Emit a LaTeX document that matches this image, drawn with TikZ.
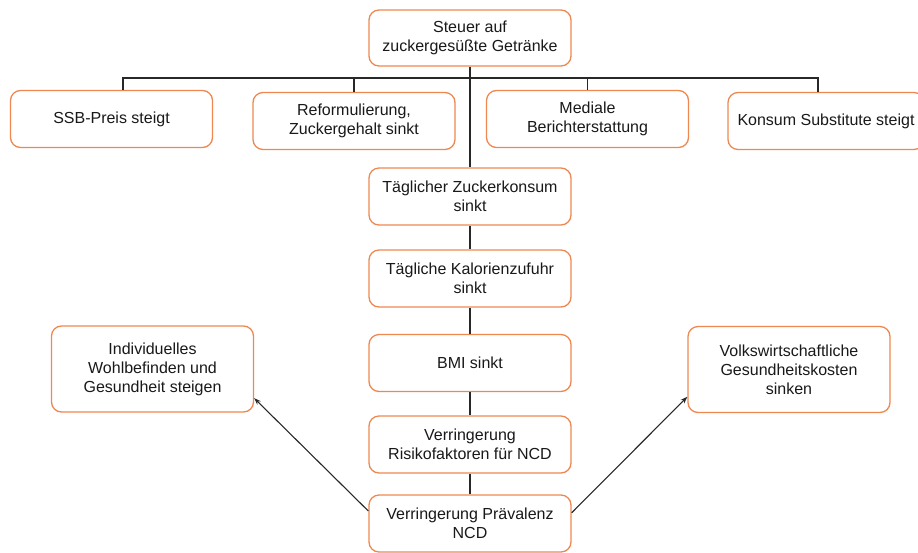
\documentclass[tikz,border=0pt]{standalone}
\usepackage{fontspec}
\setmainfont{Liberation Sans}
\usepackage{tikz}
\usepackage{xcolor}
\usetikzlibrary{arrows.meta}
\definecolor{boxorange}{RGB}{238,136,80}
\definecolor{lineGray}{RGB}{40,40,40}
\tikzset{
    flow-box/.style = {draw=boxorange, fill=white, line width=1.3pt, rectangle, rounded corners=10pt, minimum width=202pt, minimum height=57pt, align=center, text=black!90, font=\fontsize{16}{19}\selectfont},
    flow-line/.style = {draw=lineGray, line width=1.1pt},
    flow-arrow/.style = {flow-line, -{Stealth[length=7pt, width=5pt]}},
}

\begin{document}
\begin{tikzpicture}[x=1pt, y=-1pt]
\useasboundingbox (0,0) rectangle (918,552);
\clip (0,0) rectangle (918,552);
% top and first row
\node [flow-box, minimum height=56pt] (steuer) at (470,38) {Steuer auf\\zuckergesüßte Getränke};
\node [flow-box] (ssb) at (111.5,119) {SSB-Preis steigt};
\node [flow-box] (reform) at (354,121) {Reformulierung,\\Zuckergehalt sinkt};
\node [flow-box] (mediale) at (587.5,119) {Mediale\\Berichterstattung};
\node [flow-box, minimum width=196pt] (konsum) at (826,121) {Konsum Substitute steigt};
% central chain
\node [flow-box] (zucker) at (470,196.5) {Täglicher Zuckerkonsum\\sinkt};
\node [flow-box] (kalorien) at (470,278.5) {Tägliche Kalorienzufuhr\\sinkt};
\node [flow-box] (bmi) at (470,363) {BMI sinkt};
\node [flow-box] (risiko) at (470,444.5) {Verringerung\\Risikofaktoren für NCD};
\node [flow-box] (praevalenz) at (470,523.5) {Verringerung Prävalenz\\NCD};
% outcomes
\node [flow-box, minimum height=86pt] (wohl) at (152.5,369) {Individuelles\\Wohlbefinden und\\Gesundheit steigen};
\node [flow-box, minimum height=86pt] (volks) at (789,369.5) {Volkswirtschaftliche\\Gesundheitskosten\\sinken};

% bus
\coordinate (bus-l) at (123,78);
\coordinate (bus-r) at (818,78);
\draw [flow-line] (bus-l |- ssb.north) -- (bus-l) -- (bus-r) -- (bus-r |- konsum.north);
\draw [flow-line] (bus-l -| reform) -- (reform.north);
\draw [flow-line] (bus-l -| mediale) -- (mediale.north);
\draw [flow-line] (steuer) -- (zucker);
\draw [flow-line] (zucker) -- (kalorien);
\draw [flow-line] (kalorien) -- (bmi);
\draw [flow-line] (bmi) -- (risiko);
\draw [flow-line] (risiko) -- (praevalenz);
% arrows
\draw [flow-arrow] (praevalenz.173.6) -- (wohl.-16);
\draw [flow-arrow] (praevalenz.6) -- (volks.195);
\end{tikzpicture}
\end{document}
